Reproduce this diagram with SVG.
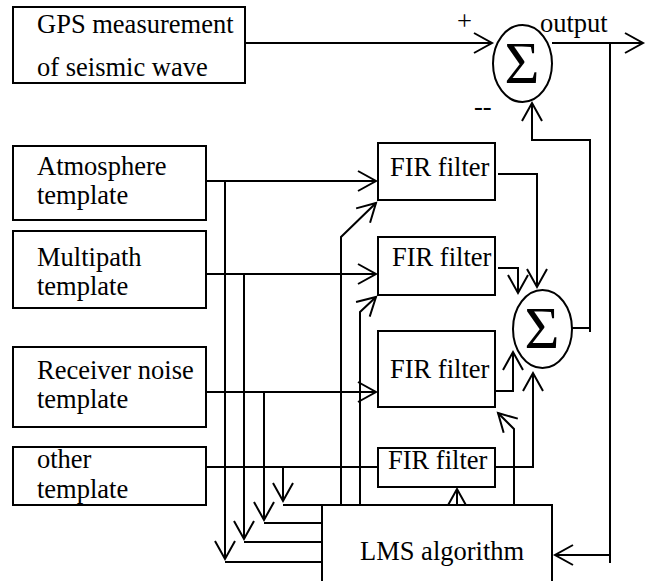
<svg xmlns="http://www.w3.org/2000/svg" width="650" height="581" viewBox="0 0 650 581">
<defs>
<style>
.box{fill:#fff;stroke:#000;stroke-width:2}
.sum{fill:#fff;stroke:#000;stroke-width:2}
.t{font-family:"Liberation Serif","Times New Roman",serif;font-size:26.5px;fill:#000}
.sig{font-family:"Liberation Serif","Times New Roman",serif;font-size:60px;fill:#000;text-anchor:middle}
.c{fill:none;stroke:#000;stroke-width:2}
.a{marker-end:url(#arr)}
</style>
<marker id="arr" markerWidth="22" markerHeight="24" viewBox="-20 -12 22 24" refX="0" refY="0" orient="auto" markerUnits="userSpaceOnUse" overflow="visible">
<path d="M-18,-10 L0,0 L-18,10" fill="none" stroke="#000" stroke-width="2"/>
</marker>
</defs>
<rect width="650" height="581" fill="#fff"/>
<g id="connectors">
<path class="c a" d="M246,43 H492"/>
<path class="c a" d="M552,43 H643"/>
<path class="c" d="M610,43 V563"/>
<path class="c a" d="M610,555 H555"/>
<path class="c" d="M572,328 H590"/>
<path class="c a" d="M590,332 V140 H532 V103"/>
<path class="c a" d="M206,181 H376"/>
<path class="c a" d="M225,181 V559"/>
<path class="c" d="M225,562 H322"/>
<path class="c a" d="M206,274 H376"/>
<path class="c a" d="M244,274 V539"/>
<path class="c" d="M244,542 H322"/>
<path class="c a" d="M206,392 H376"/>
<path class="c a" d="M264,392 V520"/>
<path class="c" d="M264,523 H322"/>
<path class="c" d="M206,467 H378"/>
<path class="c a" d="M283,467 V501"/>
<path class="c" d="M283,505 H322"/>
<path class="c a" d="M341,505 V237 L376,203"/>
<path class="c a" d="M360,505 V312 L376,297"/>
<path class="c a" d="M514,505 V429 L498,413"/>
<path class="c a" d="M457,505 V489"/>
<path class="c a" d="M498,174 H537 V287"/>
<path class="c a" d="M498,268 H518 V293"/>
<path class="c a" d="M495,391 H513 V352"/>
<path class="c a" d="M495,467 H533 V373"/>
</g>
<g id="gps">
<rect class="box" x="13" y="7" width="232" height="76"/>
<text class="t" x="37" y="33">GPS measurement</text>
<text class="t" x="37" y="76">of seismic wave</text>
</g>
<g id="sum1">
<ellipse class="sum" cx="522.5" cy="63.5" rx="29.5" ry="38.5"/>
<text class="sig" x="522" y="83">Σ</text>
</g>
<g id="labels">
<text class="t" x="457" y="30">+</text>
<text class="t" x="474" y="115">--</text>
<text class="t" x="540" y="32">output</text>
</g>
<g id="atmosphere">
<rect class="box" x="13" y="146" width="193" height="74"/>
<text class="t" x="37" y="175">Atmosphere</text>
<text class="t" x="37" y="204">template</text>
</g>
<g id="multipath">
<rect class="box" x="13" y="231" width="193" height="77"/>
<text class="t" x="37" y="266">Multipath</text>
<text class="t" x="37" y="295">template</text>
</g>
<g id="receiver">
<rect class="box" x="13" y="347" width="193" height="80"/>
<text class="t" x="37" y="379">Receiver noise</text>
<text class="t" x="37" y="408">template</text>
</g>
<g id="other">
<rect class="box" x="13" y="447" width="193" height="58"/>
<text class="t" x="37" y="468">other</text>
<text class="t" x="37" y="498">template</text>
</g>
<g id="fir1">
<rect class="box" x="378" y="143" width="117" height="57"/>
<text class="t" x="390" y="176">FIR filter</text>
</g>
<g id="fir2">
<rect class="box" x="378" y="237" width="117" height="58"/>
<text class="t" x="392" y="266">FIR filter</text>
</g>
<g id="fir3">
<rect class="box" x="378" y="331" width="117" height="76"/>
<text class="t" x="390" y="378">FIR filter</text>
</g>
<g id="fir4">
<rect class="box" x="378" y="448" width="117" height="39"/>
<text class="t" x="388" y="469">FIR filter</text>
</g>
<g id="sum2">
<ellipse class="sum" cx="542.5" cy="329" rx="29.5" ry="39"/>
<text class="sig" x="542" y="348">Σ</text>
</g>
<g id="lms">
<rect class="box" x="322" y="505" width="230" height="100"/>
<text class="t" x="360" y="560">LMS algorithm</text>
</g>
</svg>
